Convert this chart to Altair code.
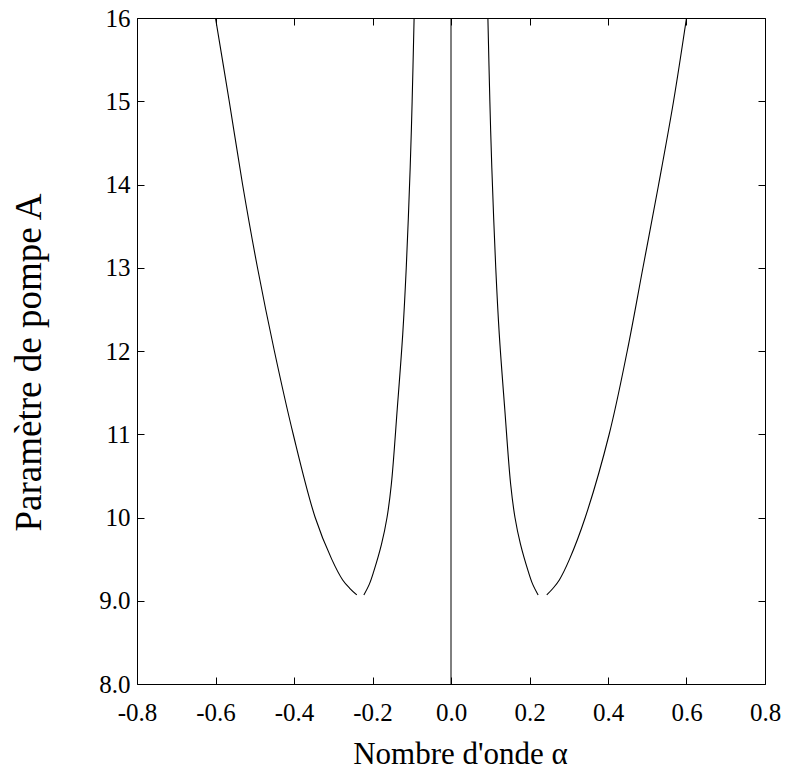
import altair as alt
import pandas as pd

# Branches of the neutral-stability curve (alpha, A)
left_outer_alpha = [-0.600, -0.565, -0.531, -0.493, -0.450, -0.402, -0.346, -0.304, -0.276, -0.258, -0.240]
left_outer_A = [16.0, 15.0, 14.0, 13.0, 12.0, 11.0, 10.0, 9.5, 9.25, 9.15, 9.07]

left_inner_alpha = [-0.222, -0.208, -0.197, -0.177, -0.163, -0.152, -0.137, -0.123, -0.114, -0.104, -0.099, -0.094]
left_inner_A = [9.07, 9.2, 9.35, 9.68, 10.0, 10.4, 11.3, 12.2, 13.0, 14.2, 15.0, 16.0]

right_inner_alpha = [0.222, 0.208, 0.197, 0.177, 0.163, 0.152, 0.137, 0.123, 0.114, 0.104, 0.099, 0.094]
right_inner_A = [9.07, 9.2, 9.35, 9.68, 10.0, 10.4, 11.3, 12.2, 13.0, 14.2, 15.0, 16.0]

right_outer_alpha = [0.600, 0.567, 0.529, 0.489, 0.449, 0.403, 0.342, 0.302, 0.276, 0.260, 0.244]
right_outer_A = [16.0, 15.0, 14.0, 13.0, 12.0, 11.0, 10.0, 9.5, 9.25, 9.15, 9.07]

# vertical line alpha = 0
zero_alpha = [0.0]
zero_A_low = [8.0]
zero_A_high = [16.0]

x_ticks = [-0.8, -0.6, -0.4, -0.2, 0.0, 0.2, 0.4, 0.6, 0.8]
y_ticks = [8, 9, 10, 11, 12, 13, 14, 15, 16]

rows = []
for name, xs, ys in [
    ("gauche_ext", left_outer_alpha, left_outer_A),
    ("gauche_int", left_inner_alpha, left_inner_A),
    ("droite_int", right_inner_alpha, right_inner_A),
    ("droite_ext", right_outer_alpha, right_outer_A),
]:
    for i, (a, p) in enumerate(zip(xs, ys)):
        rows.append({"branche": name, "alpha": a, "A": p, "ordre": i})
df = pd.DataFrame(rows)

zero_df = pd.DataFrame({"alpha": zero_alpha, "A0": zero_A_low, "A1": zero_A_high})

FONT = "Liberation Serif"
TICK = 7

xscale = alt.Scale(domain=[-0.8, 0.8], nice=False, zero=False)
yscale = alt.Scale(domain=[8, 16], nice=False, zero=False)

common = dict(
    offset=-TICK, tickSize=TICK, domain=False, grid=False,
    tickColor="black", tickWidth=1,
    labelFont=FONT, labelFontSize=25, labelColor="black",
    titleFont=FONT, titleColor="black", titleFontWeight="normal",
    labelFlush=False, labelOverlap=False,
)

x_bottom = alt.Axis(
    orient="bottom", title="Nombre d'onde α", values=x_ticks,
    labelExpr="(datum.value < 0 ? '-' : '') + format(abs(datum.value), '.1f')",
    labelPadding=16, titlePadding=14, titleX=323, titleFontSize=31, **common,
)
y_left = alt.Axis(
    orient="left", title="Paramètre de pompe A", values=y_ticks,
    labelExpr="datum.value < 10 ? format(datum.value, '.1f') : format(datum.value, 'd')",
    labelPadding=7, titlePadding=50, titleY=344, titleFontSize=37, **common,
)
x_top = alt.Axis(orient="top", title="", values=x_ticks, labels=False, **common)
y_right = alt.Axis(orient="right", title="", values=y_ticks, labels=False, **common)

lines = alt.Chart(df).mark_line(color="black", strokeWidth=1.1, interpolate="catmull-rom").encode(
    x=alt.X("alpha:Q", scale=xscale, axis=x_bottom),
    y=alt.Y("A:Q", scale=yscale, axis=y_left),
    detail="branche:N",
    order="ordre:Q",
)

zero_rule = alt.Chart(zero_df).mark_rule(color="black", strokeWidth=1).encode(
    x=alt.X("alpha:Q", scale=xscale, axis=x_top),
    y=alt.Y("A0:Q", scale=yscale, axis=y_right),
    y2="A1:Q",
)

chart = (
    alt.layer(lines, zero_rule)
    .resolve_axis(x="independent", y="independent")
    .properties(
        width=628, height=666,
        autosize=alt.AutoSizeParams(type="none"),
        padding={"left": 137, "top": 18, "right": 20, "bottom": 85},
        background="white",
    )
    .configure_view(stroke="black", strokeWidth=1)
)

chart.save("out.html", embed_options={"renderer": "svg", "actions": False})
